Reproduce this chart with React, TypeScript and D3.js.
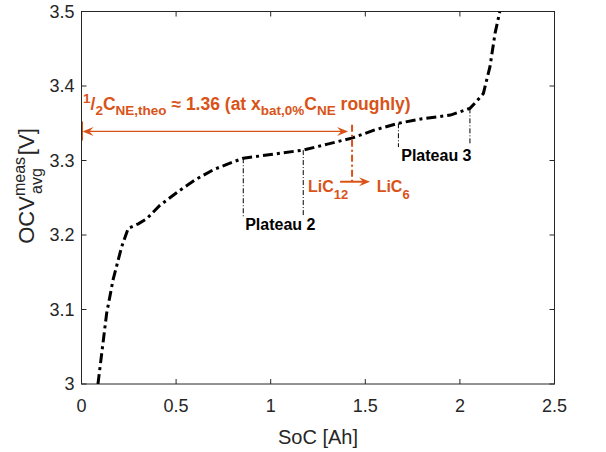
import React from 'react';
import * as d3 from 'd3';

const socAh = [0.087, 0.133, 0.167, 0.212, 0.247, 0.30, 0.345, 0.415, 0.52, 0.60, 0.70, 0.80, 0.855, 1.0, 1.172, 1.30, 1.428, 1.55, 1.675, 1.80, 1.95, 2.053, 2.09, 2.124, 2.159, 2.186, 2.211];
const ocvV = [3.0, 3.095, 3.14, 3.184, 3.209, 3.215, 3.222, 3.240, 3.26, 3.274, 3.288, 3.298, 3.303, 3.308, 3.314, 3.322, 3.330, 3.341, 3.350, 3.356, 3.361, 3.370, 3.380, 3.390, 3.426, 3.471, 3.5];

const xTicks = [0, 0.5, 1, 1.5, 2, 2.5];
const yTicks = [3, 3.1, 3.2, 3.3, 3.4, 3.5];

const plateauX = [0.855, 1.172, 1.675, 2.053];
const plateauTop = [3.303, 3.314, 3.350, 3.370];
const plateauBottom = [3.224, 3.224, 3.318, 3.323];
const plateauLabels = ['Plateau 2', 'Plateau 3'];
const plateauLabelX = [0.865, 1.69];
const plateauLabelY = [3.207, 3.300];

const halfCapacity = 1.43;
const arrowLevel = 3.339;
const lineTop = 3.348;
const lineBottom = 3.27;
const lithArrowX = [1.367, 1.525];
const lithArrowY = 3.2715;

const ORANGE = '#D95319';
const AXIS = '#262626';
const FONT = '"Liberation Sans", Arial, Helvetica, sans-serif';

export default function App() {
  const W = 606, H = 452;
  const x = d3.scaleLinear().domain([0, 2.5]).range([81.5, 554.5]);
  const y = d3.scaleLinear().domain([3, 3.5]).range([384, 11.5]);
  const [x0, x1] = x.range();
  const [y0, y1] = y.range();
  const line = d3.line<number>().x((_, i) => x(socAh[i])).y((d) => y(d));
  const pathD = line(ocvV) || '';

  const arrowHead = (tx: number, ty: number, dir: number) => {
    const L = 11, Wd = 4.5, N = 7;
    return `M${tx},${ty} L${tx - dir * L},${ty - Wd} L${tx - dir * N},${ty} L${tx - dir * L},${ty + Wd} Z`;
  };

  const ax = x(0);
  const bx = x(halfCapacity);
  const ay = y(arrowLevel);

  return (
    <svg width={W} height={H} style={{ position: 'absolute', left: 0, top: 0, background: '#fff' }} fontFamily={FONT}>
      <rect x={0} y={0} width={W} height={H} fill="#fff" />
      <defs>
        <clipPath id="plotclip">
          <rect x={x0} y={y1} width={x1 - x0} height={y0 - y1} />
        </clipPath>
      </defs>
      {/* axes box */}
      <rect x={x0} y={y1} width={x1 - x0} height={y0 - y1} fill="none" stroke={AXIS} strokeWidth={1} />
      {xTicks.map((t) => (
        <g key={'xt' + t}>
          <line x1={x(t)} x2={x(t)} y1={y0} y2={y0 - 5} stroke={AXIS} />
          <line x1={x(t)} x2={x(t)} y1={y1} y2={y1 + 5} stroke={AXIS} />
          <text x={x(t)} y={y0 + 28} textAnchor="middle" fontSize={18} fill={AXIS}>{String(t)}</text>
        </g>
      ))}
      {yTicks.map((t) => (
        <g key={'yt' + t}>
          <line x1={x0} x2={x0 + 5} y1={y(t)} y2={y(t)} stroke={AXIS} />
          <line x1={x1} x2={x1 - 5} y1={y(t)} y2={y(t)} stroke={AXIS} />
          <text x={x0 - 7} y={y(t) + 6} textAnchor="end" fontSize={18} fill={AXIS}>{String(t)}</text>
        </g>
      ))}
      <text x={(x0 + x1) / 2} y={444} textAnchor="middle" fontSize={20} fill={AXIS}>SoC [Ah]</text>
      <text transform={`translate(34,186) rotate(-90)`} textAnchor="middle" fontSize={22} fill={AXIS}>
        OCV<tspan fontSize={16} dy={-9}>meas</tspan><tspan fontSize={16} dx={-37} dy={17}>avg</tspan><tspan dx={13} dy={-8}>[V]</tspan>
      </text>

      {/* plateau markers */}
      {plateauX.map((p, i) => (
        <line key={'pl' + i} x1={x(p)} x2={x(p)} y1={y(plateauTop[i])} y2={y(plateauBottom[i])}
          stroke="#000" strokeWidth={1} strokeDasharray="5,2,1,2" />
      ))}
      {plateauLabels.map((l, i) => (
        <text key={'plab' + i} x={x(plateauLabelX[i])} y={y(plateauLabelY[i])} fontSize={16} fontWeight="bold" fill="#000">{l}</text>
      ))}

      {/* curve */}
      <path d={pathD} fill="none" stroke="#000" strokeWidth={3} strokeDasharray="10,4,3,4" clipPath="url(#plotclip)" />

      {/* orange annotation */}
      <line x1={ax + 1} x2={ax + 1} y1={ay - 10} y2={ay + 9} stroke={ORANGE} strokeWidth={1} />
      <line x1={ax + 4} x2={bx - 6} y1={ay} y2={ay} stroke={ORANGE} strokeWidth={1.3} />
      <path d={arrowHead(ax + 1, ay, -1)} fill={ORANGE} />
      <path d={arrowHead(bx - 4, ay, 1)} fill={ORANGE} />
      <line x1={bx} x2={bx} y1={y(lineTop)} y2={y(lineBottom)} stroke={ORANGE} strokeWidth={2} strokeDasharray="7,3,2,3" />
      <line x1={x(lithArrowX[0])} x2={x(lithArrowX[1]) - 6} y1={y(lithArrowY)} y2={y(lithArrowY)} stroke={ORANGE} strokeWidth={2} />
      <path d={arrowHead(x(lithArrowX[1]), y(lithArrowY), 1)} fill={ORANGE} />
      <text x={x(1.197)} y={y(3.258)} fontSize={16} fontWeight="bold" fill={ORANGE}>
        LiC<tspan fontSize={13} dy={7}>12</tspan>
      </text>
      <text x={x(1.56)} y={y(3.258)} fontSize={16} fontWeight="bold" fill={ORANGE}>
        LiC<tspan fontSize={13} dy={7}>6</tspan>
      </text>
      <text x={x(0.008)} y={y(3.368)} fontSize={17.5} fontWeight="bold" fill={ORANGE}>
        <tspan fontSize={13.5} dy={-7}>1</tspan>
        <tspan dy={7}>/</tspan>
        <tspan fontSize={13.5} dy={5}>2</tspan>
        <tspan dy={-5}>C</tspan>
        <tspan fontSize={13.5} dy={5}>NE,theo</tspan>
        <tspan dy={-5}> ≈ 1.36 (at x</tspan>
        <tspan fontSize={13.5} dy={5}>bat,0%</tspan>
        <tspan dy={-5}>C</tspan>
        <tspan fontSize={13.5} dy={5}>NE</tspan>
        <tspan dy={-5}> roughly)</tspan>
      </text>
    </svg>
  );
}
